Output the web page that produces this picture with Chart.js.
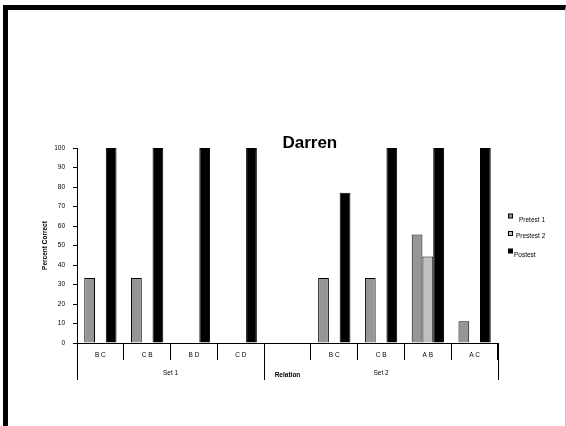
<!DOCTYPE html>
<html>
<head>
<meta charset="utf-8">
<script src="https://cdn.jsdelivr.net/npm/chart.js@4"></script>
<style>
  html, body { margin: 0; padding: 0; background: #fff; }
  #wrap { position: relative; width: 566px; height: 426px; overflow: hidden; }
  #wrap canvas { position: absolute; left: 0; top: 0; }
  #frame {
    position: absolute; left: 3px; top: 5px; width: 563px; height: 440px;
    border-top: 5px solid #000; border-left: 5px solid #000; border-right: 1px solid #c8c8c8;
    box-sizing: border-box; pointer-events: none;
  }
</style>
</head>
<body>
<div id="wrap">
  <canvas id="chart" width="566" height="426"></canvas>
  <div id="frame"></div>
</div>
<script>
// Relations tested, in axis order (the empty slot separates the two sets)
const categories = ['BC', 'CB', 'BD', 'CD', '', 'BC', 'CB', 'AB', 'AC'];
const groupLabels = ['Set 1', 'Set 2'];
const groupStarts = [0, 4];
const groupEnds = [3, 8];
const axisTitleX = 'Relation';
const axisTitleY = 'Percent Correct';

// Percent correct per relation
const pretest1 = [33.3, 33.3, 0, 0, null, 33.3, 33.3, 55.6, 11.1];
const pretest2 = [0, 0, 0, 0, null, 0, 0, 44.4, 0];
const posttest = [100, 100, 100, 100, null, 77, 100, 100, 100];

const yTicks = [0, 10, 20, 30, 40, 50, 60, 70, 80, 90, 100];

const FONT = 'Arial, "Liberation Sans", sans-serif';

// Draws the chart title, the two-level category axis and the legend
const decorations = {
  id: 'decorations',
  afterDraw(chart) {
    const ctx = chart.ctx;
    const xs = chart.scales.x;
    const area = chart.chartArea;
    const n = categories.length;
    const step = xs.width / n;
    const edge = i => xs.getPixelForValue(i) - step / 2;

    ctx.save();
    ctx.fillStyle = '#000';
    ctx.strokeStyle = '#000';
    ctx.lineWidth = 1;

    // category labels
    ctx.font = '6.5px ' + FONT;
    ctx.textAlign = 'center';
    ctx.textBaseline = 'middle';
    categories.forEach((c, i) => {
      if (c) ctx.fillText(c.split('').join(' '), xs.getPixelForValue(i), xs.top + 12);
    });

    // long dividers between the sets
    const longEdges = [0];
    groupEnds.forEach(g => longEdges.push(g + 1));
    longEdges.forEach(i => {
      const px = Math.round(edge(i)) + 0.5;
      ctx.beginPath();
      ctx.moveTo(px, xs.top);
      ctx.lineTo(px, xs.top + 37);
      ctx.stroke();
    });

    // set labels
    groupLabels.forEach((g, k) => {
      const cx = (edge(groupStarts[k]) + edge(groupEnds[k] + 1)) / 2;
      ctx.fillText(g, cx, xs.top + 30);
    });

    // axis title under the empty slot
    ctx.font = 'bold 6.5px ' + FONT;
    ctx.fillText(axisTitleX, xs.getPixelForValue(4), xs.top + 32);

    // chart title
    ctx.font = 'bold 17px ' + FONT;
    ctx.textBaseline = 'alphabetic';
    ctx.fillText('Darren', area.left + area.width * 0.553, area.top);

    // legend
    ctx.font = '6.5px ' + FONT;
    ctx.textAlign = 'left';
    ctx.textBaseline = 'middle';
    const rows = [216, 233.5, 251];
    const textDx = [11, 8, 6];
    const textDy = [4, 2.5, 4];
    chart.data.datasets.forEach((ds, i) => {
      const y = rows[i];
      ctx.fillStyle = ds.backgroundColor;
      ctx.fillRect(508.5, y - 2, 4, 4);
      ctx.strokeStyle = '#000';
      ctx.strokeRect(508.5, y - 2, 4, 4);
      ctx.fillStyle = '#000';
      ctx.fillText(ds.label, 508 + textDx[i], y + textDy[i]);
    });
    ctx.restore();
  }
};

new Chart(document.getElementById('chart'), {
  type: 'bar',
  data: {
    labels: categories,
    datasets: [
      { label: 'Pretest 1', data: pretest1, backgroundColor: '#969696', borderColor: '#000', borderWidth: 1 },
      { label: 'Prestest 2', data: pretest2, backgroundColor: '#c0c0c0', borderColor: '#000', borderWidth: 1 },
      { label: 'Postest', data: posttest, backgroundColor: '#000', borderColor: '#000', borderWidth: 1 }
    ]
  },
  options: {
    responsive: false,
    animation: false,
    devicePixelRatio: 1,
    layout: { padding: { left: 37, right: 68, top: 148, bottom: 43 } },
    datasets: { bar: { categoryPercentage: 0.69, barPercentage: 1.0, borderSkipped: 'bottom' } },
    plugins: { legend: { display: false }, title: { display: false }, tooltip: { enabled: false } },
    scales: {
      x: {
        ticks: { display: false },
        grid: { drawOnChartArea: false, drawTicks: true, tickLength: 17, color: '#000', offset: true },
        border: { display: true, color: '#000' },
        afterFit(s) { s.height = 40; }
      },
      y: {
        min: 0, max: 100,
        afterBuildTicks(s) { s.ticks = yTicks.map(v => ({ value: v })); },
        ticks: { color: '#000', font: { size: 6.5, family: FONT }, padding: 8 },
        grid: { drawOnChartArea: false, drawTicks: true, tickLength: 4, color: '#000' },
        border: { display: true, color: '#000' },
        title: { display: true, text: axisTitleY, color: '#000', font: { size: 6.5, weight: 'bold', family: FONT }, padding: { top: 4, bottom: 0 } },
        afterFit(s) { s.width = 40; }
      }
    }
  },
  plugins: [decorations]
});
</script>
</body>
</html>
